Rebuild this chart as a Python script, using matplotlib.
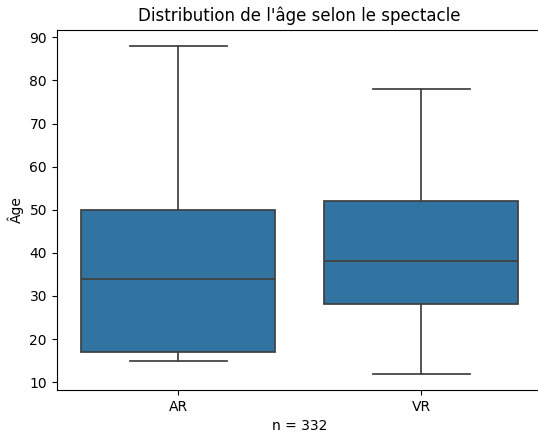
import matplotlib
matplotlib.use('Agg')
import matplotlib.pyplot as plt

# Summary stats
spectacles = ["AR", "VR"]
age_min = [15, 12]
age_q1 = [17, 28.2]
age_med = [34, 38]
age_q3 = [50, 52]
age_max = [88, 78]
n_total = 332

stats = []
for lab, lo, q1, med, q3, hi in zip(spectacles, age_min, age_q1, age_med, age_q3, age_max):
    stats.append({"label": lab, "whislo": lo, "q1": q1, "med": med,
                  "q3": q3, "whishi": hi, "fliers": []})

fig = plt.figure(figsize=(5.38, 4.34), dpi=100)
# the reference is cropped on the right, so the axes run past the figure edge
ax = fig.add_axes([0.1054, 0.1014, 0.9033, 0.8306])

line_col = "#3f3f3f"
ax.bxp(stats, positions=range(len(stats)), widths=0.8, capwidths=0.4,
       patch_artist=True, showfliers=False,
       boxprops=dict(facecolor="#3274a1", edgecolor=line_col, linewidth=1.25),
       medianprops=dict(color=line_col, linewidth=1.25),
       whiskerprops=dict(color=line_col, linewidth=1.25),
       capprops=dict(color=line_col, linewidth=1.25))

ax.set_xlim(-0.5, 1.5)
ax.set_ylim(8.2, 91.8)
ax.set_title("Distribution de l'âge selon le spectacle")
ax.set_ylabel("Âge")
ax.set_xlabel(f"n = {n_total}")

fig.savefig("out.png", dpi=100)
